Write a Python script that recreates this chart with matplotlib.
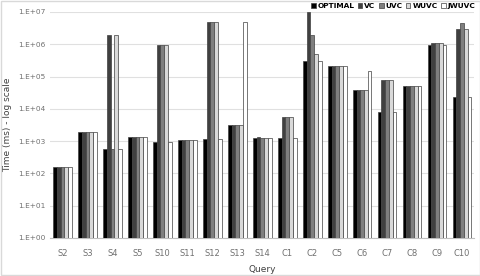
import numpy as np
import matplotlib
matplotlib.use("Agg")
import matplotlib.pyplot as plt
from matplotlib.patches import Rectangle

queries = ["S2", "S3", "S4", "S5", "S10", "S11", "S12", "S13", "S14",
           "C1", "C2", "C5", "C6", "C7", "C8", "C9", "C10"]

optimal = [160, 1950, 570, 1370, 960, 1100, 1140, 3100, 1250,
           1250, 3.0e5, 2.1e5, 3.8e4, 8100, 5.2e4, 9.4e5, 2.3e4]
vc = [160, 1950, 1.9e6, 1370, 9.4e5, 1100, 5.0e6, 3100, 1320,
      5500, 9.7e6, 2.1e5, 3.8e4, 7.8e4, 5.2e4, 1.1e6, 3.0e6]
uvc = [160, 1950, 570, 1370, 9.4e5, 1100, 5.0e6, 3100, 1250,
       5500, 1.9e6, 2.1e5, 3.8e4, 7.8e4, 5.2e4, 1.1e6, 4.5e6]
wuvc = [160, 1950, 1.9e6, 1370, 9.4e5, 1100, 5.0e6, 3100, 1250,
        5500, 4.9e5, 2.1e5, 3.8e4, 7.8e4, 5.2e4, 1.1e6, 3.0e6]
jwuvc = [160, 1950, 570, 1370, 960, 1100, 1150, 5.0e6, 1250,
         1250, 3.0e5, 2.1e5, 1.48e5, 8100, 5.2e4, 9.3e5, 2.3e4]

series = [
    ("OPTIMAL", optimal, "#000000"),
    ("VC", vc, "#404040"),
    ("UVC", uvc, "#7f7f7f"),
    ("WUVC", wuvc, "#d9d9d9"),
    ("JWUVC", jwuvc, "#ffffff"),
]

fig = plt.figure(figsize=(4.81, 2.76), dpi=100)
ax = fig.add_axes([50 / 481, 38 / 276, 424.5 / 481, 226 / 276])

x = np.arange(len(queries))
ancho = 0.15
for i, (nombre, valores, color) in enumerate(series):
    ax.bar(x + (i - 2) * ancho, valores, width=ancho, color=color,
           edgecolor="#404040", linewidth=0.5, label=nombre, zorder=3)

ax.set_yscale("log")
ax.set_ylim(1, 1e7)
ax.set_xlim(-0.5, len(queries) - 0.5)
ax.set_yticks([10.0 ** k for k in range(8)])
ax.set_yticklabels([f"1.E+0{k}" for k in range(8)])
ax.minorticks_off()
ax.set_xticks(x)
ax.set_xticklabels(queries)
ax.tick_params(axis="both", length=0, labelsize=5.3, colors="#707070")
ax.tick_params(axis="x", pad=8, labelsize=6)
ax.grid(True, axis="y", color="#e0e0e0", linewidth=0.8, zorder=0)
for lado in ["top", "right", "left"]:
    ax.spines[lado].set_visible(False)
ax.spines["bottom"].set_color("#bfbfbf")
ax.spines["bottom"].set_linewidth(0.8)

ax.set_xlabel("Query", fontsize=6.5, color="#404040", labelpad=5)
ax.set_ylabel("Time (ms) - log scale", fontsize=6.5, color="#404040", labelpad=4)

fig.legend(loc="upper right", bbox_to_anchor=(0.997, 1.005), ncol=5, frameon=False,
           prop={"size": 5.3, "weight": "bold"}, handlelength=0.6, handleheight=0.6,
           handletextpad=0.25, columnspacing=0.5, borderaxespad=0.2)

# borde exterior del grafico
fig.patches.append(Rectangle((0.002, 0.003), 0.996, 0.994, transform=fig.transFigure,
                             fill=False, edgecolor="#d9d9d9", linewidth=1))

fig.savefig("out.png", dpi=100)
